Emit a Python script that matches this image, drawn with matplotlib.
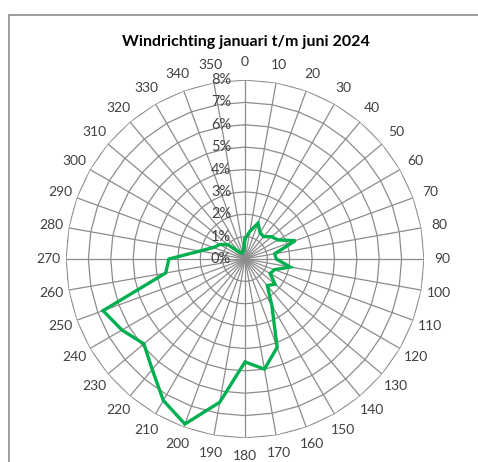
import numpy as np
import matplotlib.pyplot as plt
from matplotlib.patches import Rectangle

plt.rcParams['font.family'] = ['Lato', 'DejaVu Sans']

# windrichting in graden en aandeel van de uren (%)
directions = list(range(0, 360, 10))
share = [0.9, 1.25, 1.7, 1.35, 1.3, 1.55, 1.7, 2.4, 1.35, 1.4,
         2.05, 1.4, 1.3, 1.75, 1.55, 2.4, 4.2, 5.0, 4.6, 6.5,
         7.85, 7.3, 6.45, 5.9, 6.35, 6.75, 3.6, 3.4, 2.05, 1.5,
         1.3, 1.0, 0.4, 0.3, 0.3, 0.4]
rings = [0, 1, 2, 3, 4, 5, 6, 7, 8]
title = "Windrichting januari t/m juni 2024"

W, H = 478, 462
fig = plt.figure(figsize=(W / 100, H / 100), dpi=100)

# kader van het grafiekgebied
fig.patches.append(Rectangle((9 / W, -0.1), 1.2, 1 - 15 / H + 0.1,
                             transform=fig.transFigure, fill=False,
                             edgecolor='#8c8c8c', linewidth=1.2))

cx, cy, R = 245, 259, 179
ax = fig.add_axes([(cx - R) / W, (H - cy - R) / H, 2 * R / W, 2 * R / H],
                  projection='polar')
ax.set_theta_zero_location('N')
ax.set_theta_direction(-1)
ax.set_ylim(0, rings[-1])
ax.grid(False)
ax.set_xticks([])
ax.set_yticks([])
ax.spines['polar'].set_visible(False)
ax.patch.set_alpha(0)

theta = np.deg2rad(directions + [directions[0] + 360])
grid_color = '#8c8c8c'
for r in rings[1:]:
    ax.plot(theta, [r] * len(theta), color=grid_color, lw=0.9, zorder=1)
for d in directions:
    ax.plot([np.deg2rad(d)] * 2, [0, rings[-1]], color=grid_color, lw=0.9, zorder=1)

ax.plot(theta, share + share[:1], color='#00B050', lw=2.4, zorder=3,
        solid_joinstyle='miter')

for d in directions:
    ax.text(np.deg2rad(d), rings[-1] * 1.1, str(d), ha='center', va='center',
            fontsize=10, color='#404040')
for r in rings:
    ax.annotate(f"{r}%", (0, r), xytext=(-10, 0), textcoords='offset points',
                ha='right', va='center', fontsize=10.5, color='#404040')

fig.text(245.5 / W, 1 - 42 / H, title, ha='center', va='center',
         fontsize=11.5, fontweight='bold', color='black')

fig.savefig('out.png', dpi=100)
